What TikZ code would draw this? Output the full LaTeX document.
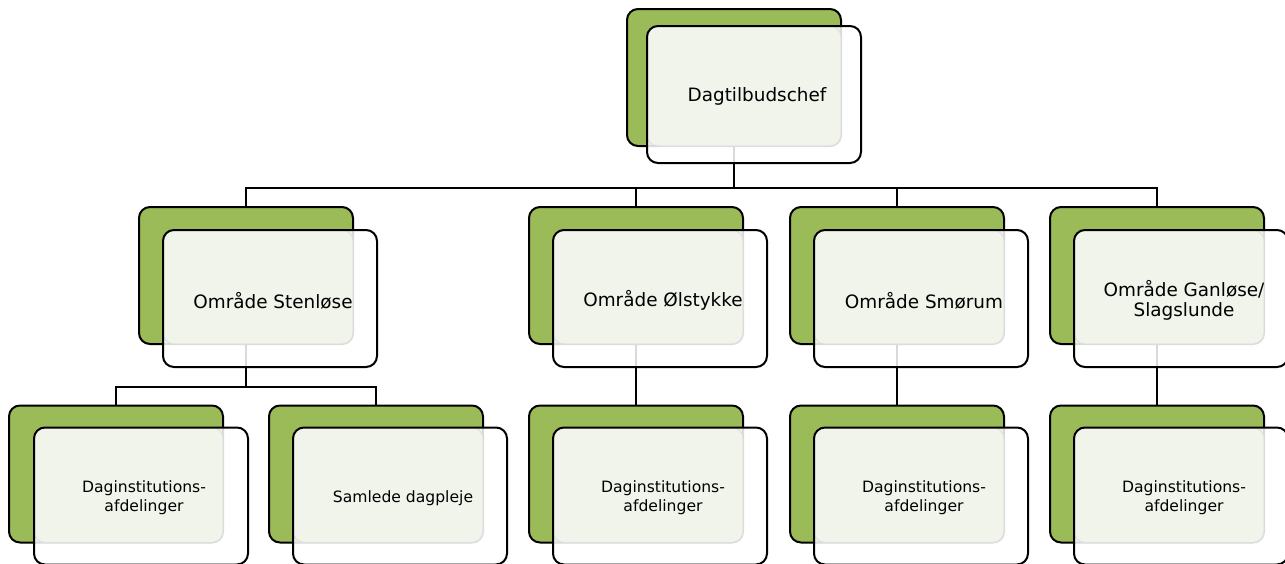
\documentclass[tikz,border=0pt]{standalone}
\usepackage{fontspec}
\setmainfont{DejaVu Sans}
\usetikzlibrary{backgrounds}

\definecolor{leafgreen}{HTML}{9BBB59}
\definecolor{palepane}{HTML}{F2F5EC}

\begin{document}
\begin{tikzpicture}[x=0.5pt, y=-0.5pt,
    backcard/.style={draw=black, line width=1pt, fill=leafgreen, rounded corners=5.5pt,
        minimum width=107pt, minimum height=68.5pt, inner sep=0pt, outer sep=0pt},
    frontcard/.style={fill=white, fill opacity=0.85, rounded corners=5.5pt,
        minimum width=107pt, minimum height=68.5pt, inner sep=0pt, outer sep=0pt},
    frontline/.style={draw=black, line width=1pt, rounded corners=5.5pt},
    textpane/.style={draw=black!13, line width=0.5pt, fill=palepane, fill opacity=0.85,
        rounded corners=5.5pt},
    bigtext/.style={font=\fontsize{9.2pt}{10.2pt}\selectfont, align=center},
    smalltext/.style={font=\fontsize{7.8pt}{9.5pt}\selectfont, align=center},
    link/.style={draw=black, line width=0.8pt},
  ]

    \useasboundingbox (0,0) rectangle (1285,563);

    % Cards: green back card, white front card, pale text pane, label
    \foreach \name/\x/\y/\dx/\dy/\size/\label in {
        chef/734/77.5/20/17/bigtext/Dagtilbudschef,
        sten/246/275.5/24/23/bigtext/Område Stenløse,
        ols/636/275.5/24/23/bigtext/Område Ølstykke,
        smo/897/275.5/24/23/bigtext/Område Smørum,
        gan/1157/275.5/24/23/bigtext/{Område Ganløse/\\Slagslunde},
        dag1/116/474/25/22/smalltext/{Daginstitutions-\\afdelinger},
        sam/376/474/24/22/smalltext/Samlede dagpleje,
        dag2/636/474/24/22/smalltext/{Daginstitutions-\\afdelinger},
        dag3/897/474/24/22/smalltext/{Daginstitutions-\\afdelinger},
        dag4/1157/474/24/22/smalltext/{Daginstitutions-\\afdelinger}}{
        \node[backcard] (\name-back) at (\x,\y) {};
        \node[frontcard] (\name-front) at ([shift={(\dx,\dy)}]\name-back.center) {};
        \path[textpane] (\name-front.north west) rectangle (\name-back.south east);
        \draw[frontline] (\name-front.north west) rectangle (\name-front.south east);
        \node[\size] (\name) at ([shift={(3,2)}]\name-front.center) {\label};
    }

    \coordinate (bus) at (0,188);
    \coordinate (subbus) at (0,387);

    \begin{scope}[on background layer]
        % Chef to the four areas
        \draw[link, line width=1.3pt] (chef-back.south) -- (chef-back.south |- bus);
        \draw[link] (sten-back.north) |- (gan-back.north |- bus) -- (gan-back.north);
        \draw[link] (ols-back.north) -- (ols-back.north |- bus);
        \draw[link] (smo-back.north) -- (smo-back.north |- bus);

        % Areas to their units
        \draw[link] (sten-back.south) -- (sten-back.south |- subbus);
        \draw[link] (dag1-back.north) |- (sam-back.north |- subbus) -- (sam-back.north);
        \draw[link] (ols-back.south) -- (dag2-back.north);
        \draw[link] (smo-back.south) -- (dag3-back.north);
        \draw[link] (gan-back.south) -- (dag4-back.north);
    \end{scope}

\end{tikzpicture}
\end{document}
